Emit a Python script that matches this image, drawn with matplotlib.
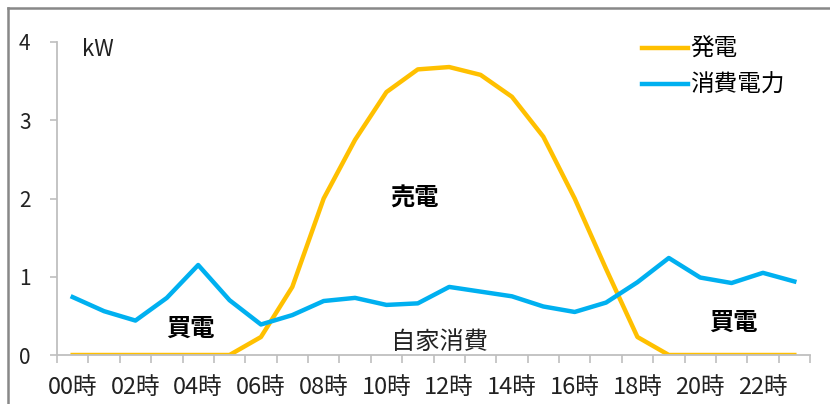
import matplotlib.pyplot as plt
from matplotlib.lines import Line2D

plt.rcParams['font.family'] = ['Noto Sans CJK JP', 'DejaVu Sans']

hours = list(range(24))
hour_labels = [f'{h:02d}時' for h in range(0, 24, 2)]

generation = [0, 0, 0, 0, 0, 0, 0.23, 0.87, 2.0, 2.75, 3.36, 3.65,
              3.68, 3.58, 3.30, 2.79, 2.0, 1.1, 0.23, 0, 0, 0, 0, 0]
consumption = [0.74, 0.56, 0.44, 0.73, 1.15, 0.70, 0.39, 0.51, 0.69, 0.73, 0.64, 0.66,
               0.87, 0.81, 0.75, 0.62, 0.55, 0.67, 0.93, 1.24, 0.99, 0.92, 1.05, 0.94]

fig = plt.figure(figsize=(8.3, 4.04), dpi=100)
ax = fig.add_axes([57 / 830, 49 / 404, 753 / 830, 313 / 404])

ax.plot(hours, generation, color='#FFC000', lw=3.2, label='発電', solid_joinstyle='round')
ax.plot(hours, consumption, color='#00B0F0', lw=3.2, label='消費電力', solid_joinstyle='round')

ax.set_xlim(-0.5, 23.5)
ax.set_ylim(0, 4)
ax.set_yticks([0, 1, 2, 3, 4])
ax.set_xticks([i - 0.5 for i in range(25)])
ax.set_xticklabels([])
ax.set_xticks(list(range(0, 24, 2)), minor=True)
ax.set_xticklabels(hour_labels, minor=True, fontsize=17, color='#222222')
ax.tick_params(axis='x', which='major', length=6, color='#bfbfbf', width=1.2)
ax.tick_params(axis='x', which='minor', length=0, pad=15)
ax.tick_params(axis='y', length=5, color='#bfbfbf', width=1.2, labelsize=15, pad=14,
               labelcolor='#222222')

for s in ['top', 'right']:
    ax.spines[s].set_visible(False)
for s in ['left', 'bottom']:
    ax.spines[s].set_color('#bfbfbf')
    ax.spines[s].set_linewidth(1.3)

ax.text(0.3, 3.9, 'kW', fontsize=16, color='#222222', va='center')
ax.text(10.9, 2.0, '売電', fontsize=17.5, fontweight='bold', ha='center', va='center')
ax.text(3.75, 0.34, '買電', fontsize=17.5, fontweight='bold', ha='center', va='center')
ax.text(21.05, 0.41, '買電', fontsize=17.5, fontweight='bold', ha='center', va='center')
ax.text(11.7, 0.16, '自家消費', fontsize=17.5, ha='center', va='center', color='#222222')

ax.legend(loc='upper right', bbox_to_anchor=(0.995, 1.08), frameon=False, fontsize=17,
          handlelength=1.95, handletextpad=0.1, labelspacing=0.55)

# outer chart border (continues off the image at right and bottom)
fig.add_artist(Line2D([8 / 830, 1.0], [1 - 8 / 404, 1 - 8 / 404], color='#888888', lw=1.8))
fig.add_artist(Line2D([8 / 830, 8 / 830], [0, 1 - 8 / 404], color='#888888', lw=1.8))

fig.savefig('out.png', dpi=100)
